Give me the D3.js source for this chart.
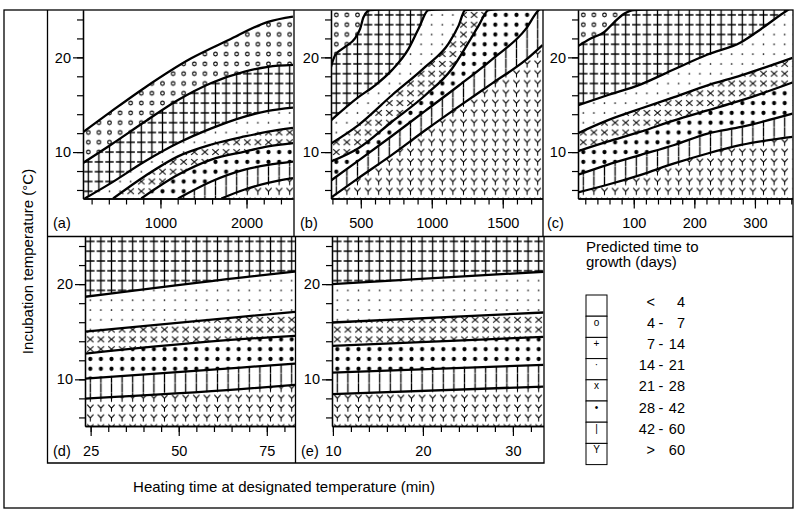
<!DOCTYPE html>
<html><head><meta charset="utf-8">
<script src="https://cdn.jsdelivr.net/npm/d3@7"></script>
<style>
body{margin:0;background:#fff}
text{font-family:"Liberation Sans",Arial,Helvetica,sans-serif;fill:#000}
</style>
</head><body>
<svg id="chart" width="800" height="517"></svg>
<script>
// ---------------- DATA ----------------
const boundaryDays = [4, 7, 14, 21, 28, 42, 60];
const legendSymbols = ["", "o", "+", "·", "x", "•", "|", "Y"];
const legendLabels = [["<", "", "4"], ["4", "-", "7"], ["7", "-", "14"], ["14", "-", "21"],
                      ["21", "-", "28"], ["28", "-", "42"], ["42", "-", "60"], [">", "", "60"]];
const panelNames = ["(a)", "(b)", "(c)", "(d)", "(e)"];
const yTickValues = [6, 8, 10, 12, 14, 16, 18, 20, 22, 24];
const yTickLabels = [10, 20];

// panel (a): boundaries 4,7,14,21,28,42,60 days  [heating time, incubation temp]
const linesA = [
  [[100,12.1],[429,14.3],[817,16.8],[1358,19.9],[1785,21.8],[2250,23.75],[2540,24.3]],
  [[100,8.85],[429,10.8],[817,13.2],[1204,15.5],[1591,17.3],[1979,18.5],[2250,19.0],[2540,19.2]],
  [[120,5.1],[429,6.75],[817,9.0],[1204,10.95],[1591,12.5],[1979,13.75],[2250,14.35],[2540,14.7]],
  [[450,5.1],[817,7.45],[1204,9.55],[1591,10.8],[1979,11.65],[2250,12.15],[2540,12.55]],
  [[777,5.1],[1204,7.6],[1591,9.2],[1979,10.05],[2250,10.6],[2540,10.95]],
  [[1204,5.1],[1591,6.9],[1979,8.15],[2250,8.65],[2540,9.0]],
  [[1707,5.1],[1979,6.05],[2250,6.75],[2540,7.25]]
];
// panel (b): boundaries 7 .. 60 days
const linesB = [
  [[290,19.0],[318,20.2],[389,21.1],[459,22.0],[495,23.0],[518,24.2],[565,25.0]],
  [[290,13.35],[483,15.8],[601,17.05],[719,18.65],[836,20.9],[906,23.0],[977,25.0]],
  [[290,10.9],[483,12.85],[719,16.0],[954,19.0],[1118,21.45],[1189,23.35],[1236,25.0]],
  [[290,9.0],[483,10.4],[719,13.2],[954,16.0],[1142,18.8],[1260,21.6],[1330,23.35],[1401,25.0]],
  [[290,7.0],[483,9.1],[719,11.7],[954,14.35],[1189,17.0],[1425,19.8],[1660,22.95],[1754,25.0]],
  [[290,5.2],[483,7.25],[719,9.7],[954,12.3],[1189,14.8],[1425,17.25],[1660,19.7],[1780,21.3]]
];
// panel (c): boundaries 7 .. 60 days
const linesC = [
  [[8,21.2],[29,22.0],[51,22.65],[67.6,23.7],[84.1,24.6],[100.6,25.0]],
  [[8,14.95],[56.5,16.0],[111.7,17.15],[166.8,18.75],[221.9,20.3],[277.1,21.6],[310.2,23.0],[354.2,25.0]],
  [[8,12.0],[56.5,13.35],[111.7,14.6],[166.8,15.8],[221.9,17.05],[277.1,18.1],[362,19.95]],
  [[8,10.1],[56.5,11.1],[111.7,12.15],[166.8,13.35],[221.9,14.4],[277.1,15.45],[362,17.35]],
  [[8,7.6],[56.5,8.65],[111.7,9.7],[166.8,10.75],[221.9,11.95],[277.1,12.65],[362,14.05]],
  [[8,5.75],[56.5,6.55],[111.7,7.6],[166.8,8.8],[221.9,9.85],[277.1,10.75],[362,11.6]]
];
// panel (d): boundaries 14 .. 60 days
const linesD = [
  [[23.4,18.67],[67.6,20.69],[83,21.32]],
  [[23.4,15.02],[67.6,16.56],[83,17.09]],
  [[23.4,12.71],[67.6,14.22],[83,14.57]],
  [[23.4,10.08],[67.6,11.24],[83,11.66]],
  [[23.4,7.98],[67.6,8.97],[83,9.42]]
];
// panel (e): boundaries 14 .. 60 days
const linesE = [
  [[9.9,20.0],[33.4,21.3]],
  [[9.9,15.97],[33.4,17.02]],
  [[9.9,13.52],[33.4,14.46]],
  [[9.9,10.71],[33.4,11.52]],
  [[9.9,8.45],[33.4,9.24]]
];
const xDomainA = [100, 2540], xTicksA = d3.range(200, 2401, 200), xLabelsA = [1000, 2000];
const xDomainB = [290, 1780], xTicksB = d3.range(300, 1701, 100), xLabelsB = [500, 1000, 1500];
const xDomainC = [8, 362],    xTicksC = d3.range(20, 361, 20),   xLabelsC = [100, 200, 300];
const xDomainD = [23.4, 83],  xTicksD = d3.range(25, 81, 5),     xLabelsD = [25, 50, 75];
const xDomainE = [9.9, 33.4], xTicksE = d3.range(10, 33, 2),     xLabelsE = [10, 20, 30];
const yDomain = [5.1, 25];

// ---------------- LAYOUT ----------------
const svg = d3.select("#chart");
const defs = svg.append("defs");
const PW = 10.6, PH = 9.8;

const panels = [
  {name: panelNames[0], plot: [83, 10, 293, 198.5],   xd: xDomainA, xt: xTicksA, xl: xLabelsA, lines: linesA, top: 0, lx: 53},
  {name: panelNames[1], plot: [331, 10, 542.5, 198.5], xd: xDomainB, xt: xTicksB, xl: xLabelsB, lines: linesB, top: 1, lx: 300},
  {name: panelNames[2], plot: [578, 10, 792.5, 198.5], xd: xDomainC, xt: xTicksC, xl: xLabelsC, lines: linesC, top: 1, lx: 547},
  {name: panelNames[3], plot: [85, 236.5, 295, 426],  xd: xDomainD, xt: xTicksD, xl: xLabelsD, lines: linesD, top: 2, lx: 53},
  {name: panelNames[4], plot: [332, 236.5, 543.5, 426], xd: xDomainE, xt: xTicksE, xl: xLabelsE, lines: linesE, top: 2, lx: 301}
];

function drawGlyph(g, idx, cx, cy) {
  function path(d, w) {
    return g.append("path").attr("d", d).attr("stroke", "#000").attr("stroke-width", w)
      .attr("fill", "none").attr("stroke-linecap", "butt");
  }
  switch (idx) {
    case 1: g.append("circle").attr("cx", cx).attr("cy", cy).attr("r", 1.8).attr("fill", "none").attr("stroke", "#000").attr("stroke-width", 1.1); break;
    case 2: path(`M${cx-4.2},${cy}H${cx+4.2}M${cx},${cy-4.8}V${cy+4.8}`, 1.3); break;
    case 3: g.append("circle").attr("cx", cx).attr("cy", cy).attr("r", 0.85).attr("fill", "#000"); break;
    case 4: path(`M${cx-3.2},${cy-2.9}L${cx+3.2},${cy+2.9}M${cx+3.2},${cy-2.9}L${cx-3.2},${cy+2.9}`, 1.05); break;
    case 5: g.append("circle").attr("cx", cx).attr("cy", cy).attr("r", 2.1).attr("fill", "#000"); break;
    case 6: path(`M${cx},${cy-4.9}V${cy+4.5}`, 1.3); break;
    case 7: path(`M${cx-3.1},${cy-3.4}L${cx},${cy+0.2}L${cx+3.1},${cy-3.4}M${cx},${cy+0.2}V${cy+3.6}`, 1.05); break;
  }
}

function makePatterns(pi, ox, oy) {
  for (let idx = 0; idx < 8; idx++) {
    const p = defs.append("pattern").attr("id", `pat${pi}_${idx}`)
      .attr("patternUnits", "userSpaceOnUse").attr("width", PW).attr("height", PH)
      .attr("x", ox).attr("y", oy);
    p.append("rect").attr("width", PW).attr("height", PH).attr("fill", "#fff");
    drawGlyph(p, idx, PW / 2, PH / 2);
  }
}

panels.forEach((P, pi) => {
  const [x0, y0, x1, y1] = P.plot;
  const x = d3.scaleLinear().domain(P.xd).range([x0, x1]);
  const y = d3.scaleLinear().domain(yDomain).range([y1, y0]);
  makePatterns(pi, x0, y0);
  defs.append("clipPath").attr("id", `clip${pi}`).append("rect")
    .attr("x", x0).attr("y", y0).attr("width", x1 - x0).attr("height", y1 - y0);
  const g = svg.append("g").attr("clip-path", `url(#clip${pi})`);
  g.append("rect").attr("x", x0).attr("y", y0).attr("width", x1 - x0).attr("height", y1 - y0)
    .attr("fill", `url(#pat${pi}_${P.top})`);
  const area = d3.area().curve(d3.curveMonotoneX).x(d => x(d[0])).y0(y1 + 2).y1(d => y(d[1]));
  const line = d3.line().curve(d3.curveMonotoneX).x(d => x(d[0])).y(d => y(d[1]));
  const exts = P.lines.map(L => {
    const pts = L.slice();
    if (pts[pts.length - 1][0] < P.xd[1]) pts.push([P.xd[1], yDomain[1] + 0.3]);
    return pts;
  });
  exts.forEach((pts, i) => {
    g.append("path").attr("d", area(pts)).attr("fill", `url(#pat${pi}_${P.top + i + 1})`);
  });
  exts.forEach(pts => {
    g.append("path").attr("d", line(pts)).attr("fill", "none").attr("stroke", "#000")
      .attr("stroke-width", 2.3).attr("stroke-linejoin", "round");
  });

  // axes
  const fmt = d3.format("d");
  const yMinor = svg.append("g").attr("transform", `translate(${x0},0)`)
    .call(d3.axisLeft(y).tickValues(yTickValues).tickSize(6).tickSizeOuter(0).tickFormat(""));
  const yMajor = svg.append("g").attr("transform", `translate(${x0},0)`)
    .call(d3.axisLeft(y).tickValues(yTickLabels).tickSize(10).tickSizeOuter(0).tickPadding(2).tickFormat(fmt));
  const xMinor = svg.append("g").attr("transform", `translate(0,${y1})`)
    .call(d3.axisBottom(x).tickValues(P.xt).tickSize(6).tickSizeOuter(0).tickFormat(""));
  const xMajor = svg.append("g").attr("transform", `translate(0,${y1})`)
    .call(d3.axisBottom(x).tickValues(P.xl).tickSize(10).tickSizeOuter(0).tickFormat(fmt));
  [yMinor, yMajor, xMinor, xMajor].forEach(a => {
    a.selectAll("path.domain").attr("stroke", "#000").attr("stroke-width", 1.3);
    a.selectAll("line").attr("stroke", "#000").attr("stroke-width", 1.2);
    a.selectAll("text").style("font-size", "14.5px").attr("fill", "#000");
  });
  xMajor.selectAll("text").attr("y", 29.5).attr("dy", 0);
  svg.append("text").attr("x", P.lx).attr("y", y1 + 29.5).style("font-size", "14.5px").text(P.name);
});

// ---------------- FRAMES ----------------
const fr = svg.append("g").attr("fill", "none").attr("stroke", "#000").attr("stroke-width", 1.3);
fr.append("rect").attr("x", 4).attr("y", 10).attr("width", 789).attr("height", 498);
fr.append("path").attr("d", "M47.5,10V463H544V236.5M47.5,236.5H793M294,10V236.5M543,10V236.5M295.5,236.5V463");

// ---------------- TITLES ----------------
svg.append("text").attr("transform", "translate(33,261.5) rotate(-90)").attr("text-anchor", "middle")
  .style("font-size", "15px").text("Incubation temperature (°C)");
svg.append("text").attr("x", 284).attr("y", 492).attr("text-anchor", "middle")
  .style("font-size", "15px").text("Heating time at designated temperature (min)");

// ---------------- LEGEND ----------------
const lg = svg.append("g");
lg.append("text").attr("x", 586).attr("y", 251.5).style("font-size", "15px").text("Predicted time to");
lg.append("text").attr("x", 586).attr("y", 267).style("font-size", "15px").text("growth (days)");
const cellTop = 295, cellH = 21.2, cellX = 586, cellW = 21;
legendSymbols.forEach((s, i) => {
  const cy = cellTop + i * cellH;
  lg.append("rect").attr("x", cellX).attr("y", cy).attr("width", cellW).attr("height", cellH)
    .attr("fill", "#fff").attr("stroke", "#000").attr("stroke-width", 1);
  lg.append("text").attr("x", cellX + cellW / 2).attr("y", cy + 9.5).attr("text-anchor", "middle")
    .style("font-size", "10px").text(s);
  const [a, b, c] = legendLabels[i];
  const by = cy + 11.5;
  lg.append("text").attr("x", 655).attr("y", by).attr("text-anchor", "end").style("font-size", "14.5px").text(a);
  lg.append("text").attr("x", 661).attr("y", by).attr("text-anchor", "middle").style("font-size", "14.5px").text(b);
  lg.append("text").attr("x", 685).attr("y", by).attr("text-anchor", "end").style("font-size", "14.5px").text(c);
});
</script>
</body></html>
